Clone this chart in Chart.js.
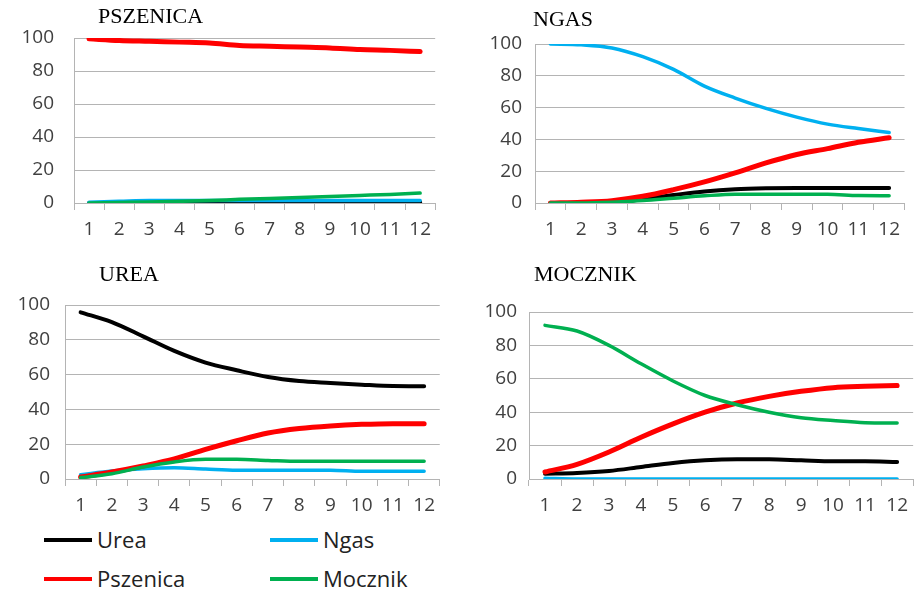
<!DOCTYPE html>
<html>
<head>
<meta charset="utf-8">
<script src="https://cdn.jsdelivr.net/npm/chart.js@4"></script>
<style>
    body { margin: 0; background: #fff; width: 918px; height: 591px; overflow: hidden; position: relative; }
    .box { position: absolute; }
    .title { position: absolute; font-family: 'Liberation Serif', 'Times New Roman', serif; font-size: 22px; line-height: 22px; color: #000; white-space: nowrap; z-index: 2; }
    .swatch { position: absolute; height: 4px; width: 48px; }
    .label { position: absolute; font-family: 'Open Sans', sans-serif; font-size: 22px; line-height: 30px; color: #222; }
</style>
</head>
<body>
<div class="box" id="box1"><canvas id="c1"></canvas></div>
<div class="box" id="box2"><canvas id="c2"></canvas></div>
<div class="box" id="box3"><canvas id="c3"></canvas></div>
<div class="box" id="box4"><canvas id="c4"></canvas></div>
<div class="title" style="left:98px;top:5px">PSZENICA</div>
<div class="title" style="left:533px;top:8px">NGAS</div>
<div class="title" style="left:99px;top:263px">UREA</div>
<div class="title" style="left:534px;top:263px">MOCZNIK</div>
<div id="legend"></div>
<script>
const months = ['1', '2', '3', '4', '5', '6', '7', '8', '9', '10', '11', '12']
const seriesNames = ['Urea', 'Ngas', 'Pszenica', 'Mocznik']
const seriesColors = ['#000000', '#00b0f0', '#ff0000', '#00b050']
const seriesWidths = [4, 3.5, 5, 3.5]

// PSZENICA
const pszUrea = [0, 0, 0, 0, 0, 0.5, 0.5, 0.5, 0.5, 0.5, 0.5, 0.5]
const pszNgas = [0.5, 1, 1.5, 1.5, 1.5, 1.5, 1.5, 1.5, 1.5, 1.5, 1.5, 1.5]
const pszPszenica = [99.5, 98.5, 98, 97.5, 97, 95.5, 95, 94.5, 94, 93, 92.5, 91.8]
const pszMocznik = [0, 0.3, 0.6, 1, 1.5, 2.2, 2.8, 3.4, 4, 4.6, 5.2, 6]

// NGAS
const ngasUrea = [0, 0, 0, 2.5, 5, 7.3, 8.7, 9.3, 9.5, 9.5, 9.5, 9.5]
const ngasNgas = [100, 99.5, 97.5, 92, 84, 73.5, 66, 59.5, 54, 49.6, 46.8, 44.3]
const ngasPszenica = [0, 0.5, 1.5, 4.2, 8.4, 13.3, 19, 25.2, 30.5, 34.2, 38.2, 41]
const ngasMocznik = [0, 0, 0.5, 1.5, 3, 4.5, 5.5, 5.5, 5.5, 5.5, 4.7, 4.6]

// UREA
const ureaUrea = [95.8, 90.2, 82, 73.6, 66.9, 62.5, 58.6, 56.3, 55.2, 54.2, 53.4, 53.3]
const ureaNgas = [2.5, 4.6, 5.9, 6.5, 5.7, 5, 5, 5, 5, 4.4, 4.4, 4.4]
const ureaPszenica = [1.1, 4, 7.5, 11.5, 17, 22, 26.4, 29, 30.5, 31.4, 31.8, 31.8]
const ureaMocznik = [0.8, 3, 6.9, 9.8, 11.3, 11.3, 10.7, 10.2, 10.2, 10.2, 10.2, 10.2]

// MOCZNIK
const mocUrea = [3.2, 3.6, 4.8, 7.2, 9.6, 11.2, 11.8, 11.8, 11.2, 10.6, 10.6, 10.2]
const mocNgas = [0.5, 0, 0, 0, 0, 0, 0, 0, 0, 0, 0, 0]
const mocPszenica = [4.2, 8.8, 16.2, 25, 33, 40, 45.5, 49.5, 52.5, 54.7, 55.5, 56]
const mocMocznik = [92, 88.6, 80, 69, 58.7, 50, 44.5, 40, 36.7, 35, 33.7, 33.5]

const GRID = '#b4b4b4'
const TICK_FONT = { family: "'Open Sans', sans-serif", size: 19 }
// y ticks add (half label height + tick padding) on top, so keep this above that
const TOP_PAD = 36
const X_HEIGHT = 45

function place(id, left, areaLeft, areaTop, right, bottom) {
    const box = document.getElementById(id)
    box.style.left = left + 'px'
    box.style.top = (areaTop - TOP_PAD) + 'px'
    box.style.width = (right - left) + 'px'
    box.style.height = (bottom - areaTop + TOP_PAD + X_HEIGHT) + 'px'
    return areaLeft - left
}

function create(canvasId, values, yWidth, yPadding) {
    const datasets = values.map((v, i) => ({
        label: seriesNames[i],
        data: v,
        borderColor: seriesColors[i],
        backgroundColor: seriesColors[i],
        borderWidth: seriesWidths[i],
        pointRadius: 0,
        cubicInterpolationMode: 'monotone',
        borderCapStyle: 'round',
        order: values.length - i
    }))

    return new Chart(document.getElementById(canvasId), {
        type: 'line',
        data: { labels: months, datasets: datasets },
        options: {
            responsive: true,
            maintainAspectRatio: false,
            animation: false,
            layout: { padding: { top: TOP_PAD, right: 0, bottom: 0, left: 0 } },
            plugins: { legend: { display: false }, tooltip: { enabled: false } },
            scales: {
                x: {
                    offset: true,
                    grid: { offset: true, drawOnChartArea: false, drawTicks: true, tickLength: 7, color: GRID },
                    border: { color: GRID },
                    ticks: { font: TICK_FONT, color: '#404040', padding: 8, maxRotation: 0, autoSkip: false },
                    afterFit: (scale) => { scale.height = X_HEIGHT }
                },
                y: {
                    min: 0,
                    max: 100,
                    grid: { color: GRID, drawTicks: false },
                    border: { color: GRID },
                    ticks: { stepSize: 20, font: TICK_FONT, color: '#404040', padding: yPadding },
                    afterFit: (scale) => { scale.width = yWidth }
                }
            }
        }
    })
}

create('c1', [pszUrea, pszNgas, pszPszenica, pszMocznik], place('box1', 0, 74, 38, 439, 203), 20)
create('c2', [ngasUrea, ngasNgas, ngasPszenica, ngasMocznik], place('box2', 460, 535, 44, 908, 203), 13)
create('c3', [ureaUrea, ureaNgas, ureaPszenica, ureaMocznik], place('box3', 0, 65, 305, 443, 479), 15)
create('c4', [mocUrea, mocNgas, mocPszenica, mocMocznik], place('box4', 460, 529, 312, 916, 479), 12)

// legend, two columns
const legendSpots = [[44, 540], [270, 540], [44, 579], [270, 579]]
const legend = document.getElementById('legend')
seriesNames.forEach((name, i) => {
    const [x, y] = legendSpots[i]
    const sw = document.createElement('div')
    sw.className = 'swatch'
    sw.style.left = x + 'px'
    sw.style.top = (y - 2) + 'px'
    sw.style.background = seriesColors[i]
    legend.appendChild(sw)
    const tx = document.createElement('div')
    tx.className = 'label'
    tx.style.left = (x + 53) + 'px'
    tx.style.top = (y - 16) + 'px'
    tx.textContent = name
    legend.appendChild(tx)
})
</script>
</body>
</html>
